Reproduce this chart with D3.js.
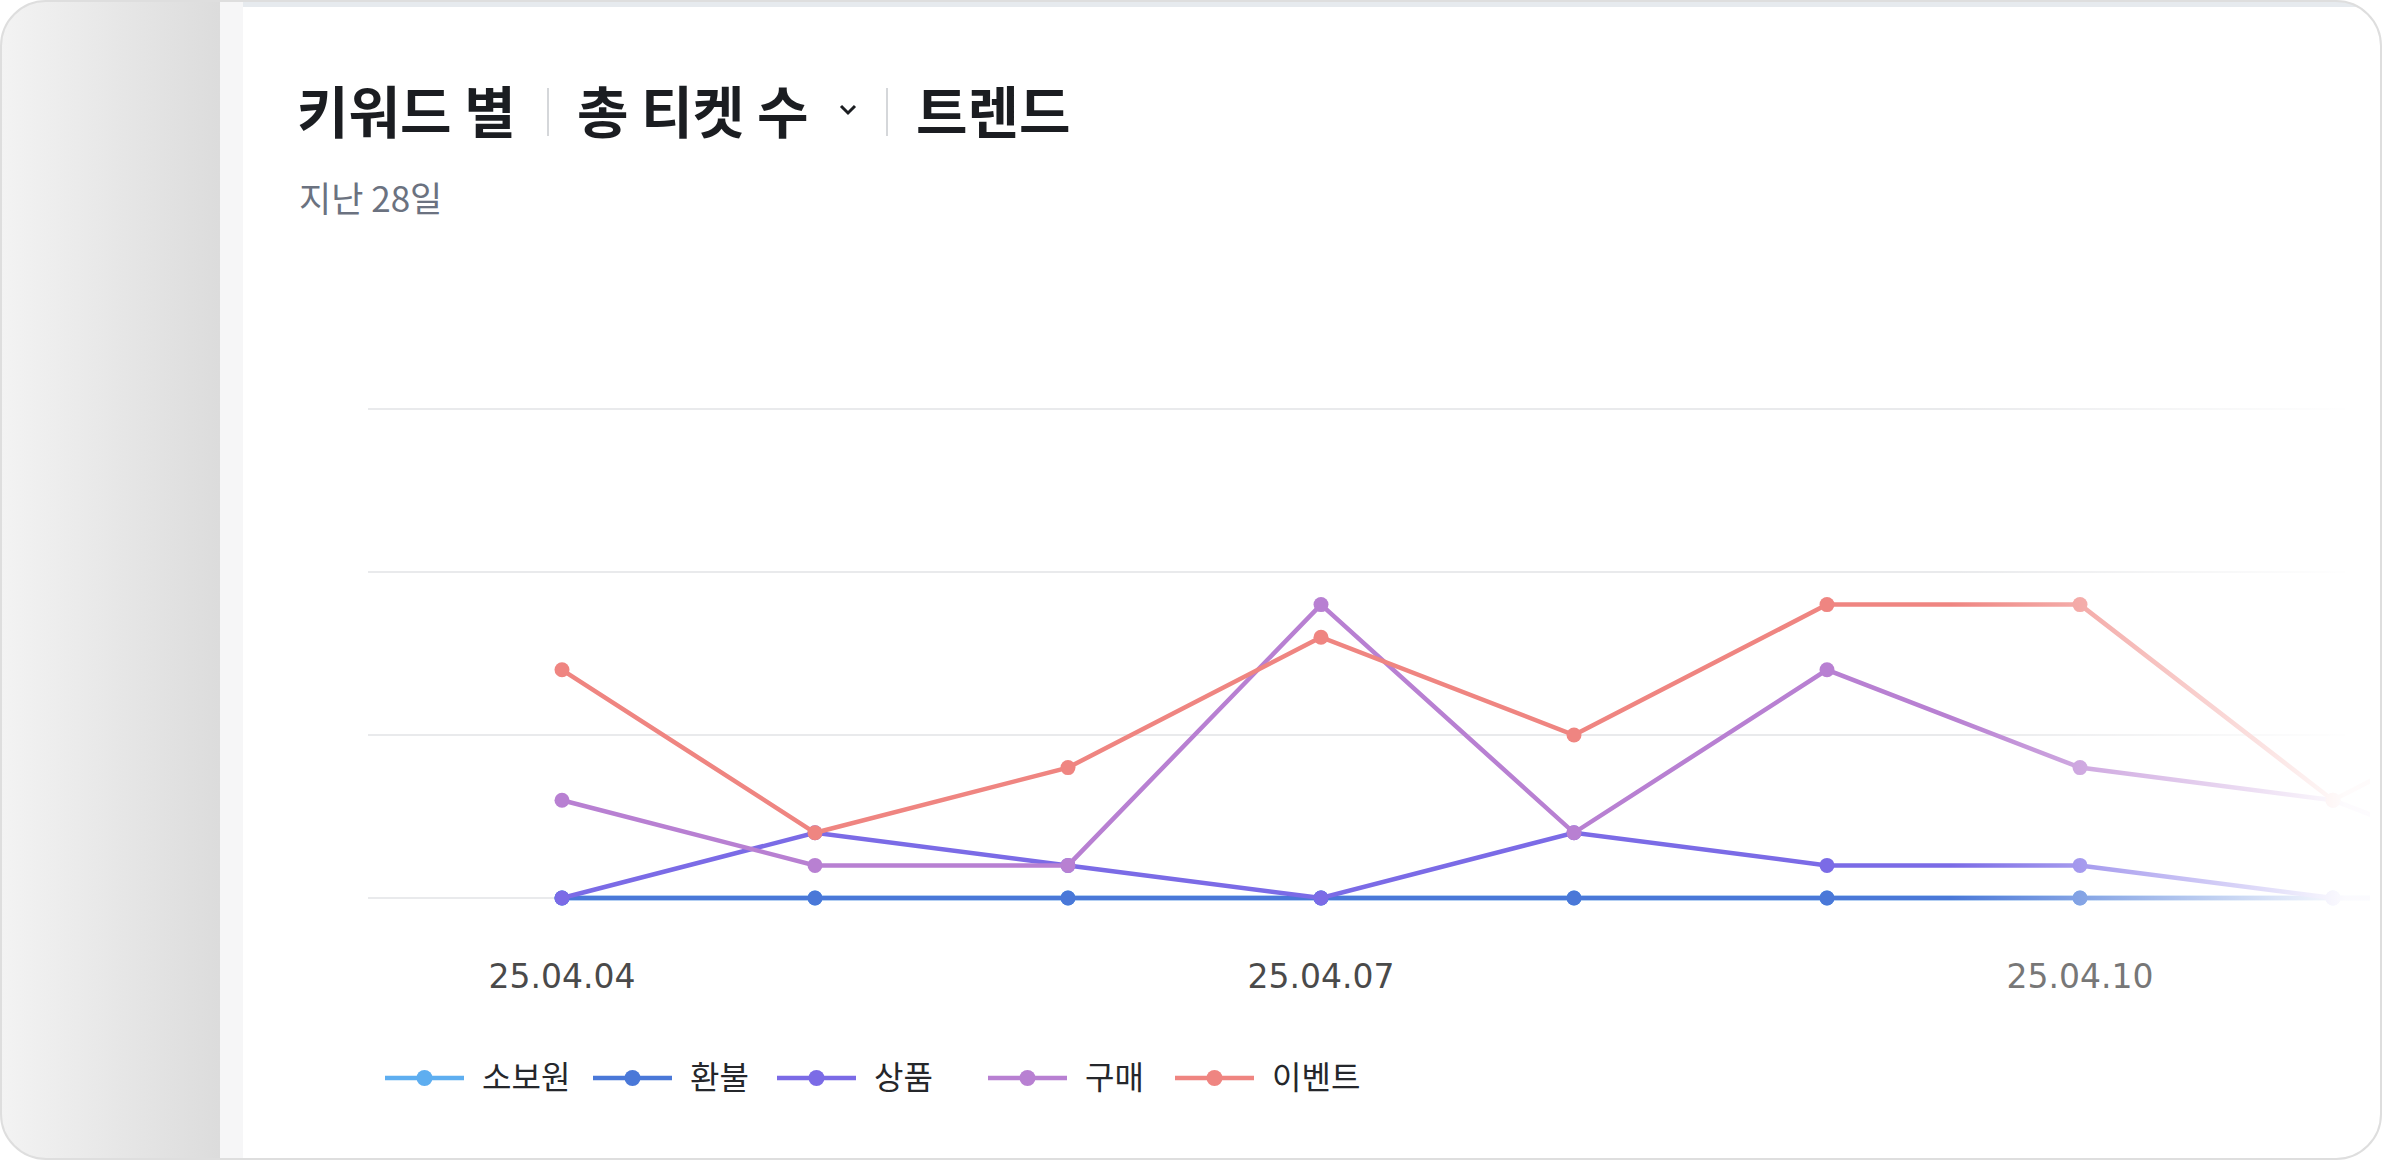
<!DOCTYPE html>
<html><head><meta charset="utf-8">
<script src="https://cdn.jsdelivr.net/npm/d3@7"></script>
<style>html,body{margin:0;padding:0;background:#fff;overflow:hidden}</style>
</head><body>
<svg id="c" width="2382" height="1160"></svg>
<script>
const dates = ["25.04.04","25.04.05","25.04.06","25.04.07","25.04.08","25.04.09","25.04.10","25.04.11","25.04.12"];
const tickLabels = ["25.04.04","25.04.07","25.04.10"];
const seriesNames = ["소보원","환불","상품","구매","이벤트"];
const colors = ["#5eaef0","#4a78d8","#7b6be6","#b880d2","#ef8581"];
const sobowon = [0,0,0,0,0,0,0,0,0];
const refund  = [0,0,0,0,0,0,0,0,0];
const product = [0,2,1,0,2,1,1,0,0];
const purchase= [3,1,1,9,2,7,4,3,0];
const eventS  = [7,2,4,8,5,9,9,3,7];
const yTicks = [0,5,10,15];
const data = [sobowon,refund,product,purchase,eventS];

const svg = d3.select("#c");
const defs = svg.append("defs");
const lg = defs.append("linearGradient").attr("id","leftg");
lg.append("stop").attr("offset","0").attr("stop-color","#f3f3f3");
lg.append("stop").attr("offset","1").attr("stop-color","#dcdcdc");
const fade = defs.append("linearGradient").attr("id","fade").attr("gradientUnits","userSpaceOnUse").attr("x1",1950).attr("x2",2345);
fade.append("stop").attr("offset","0").attr("stop-color","#fff").attr("stop-opacity",0);
fade.append("stop").attr("offset","1").attr("stop-color","#fff").attr("stop-opacity",0.97);
defs.append("clipPath").attr("id","clip").append("rect").attr("x",300).attr("y",350).attr("width",2070).attr("height",620);
defs.append("clipPath").attr("id","card").append("rect").attr("x",1).attr("y",1).attr("width",2380).attr("height",1158).attr("rx",45);

const card = svg.append("g").attr("clip-path","url(#card)");
card.append("rect").attr("width",2382).attr("height",1160).attr("fill","#fff");
card.append("rect").attr("x",0).attr("y",0).attr("width",220).attr("height",1160).attr("fill","url(#leftg)");
card.append("rect").attr("x",220).attr("y",0).attr("width",23).attr("height",1160).attr("fill","#f6f6f7");
card.append("rect").attr("x",243).attr("y",0).attr("width",2139).attr("height",7).attr("fill","#e6eaee");
svg.append("rect").attr("x",1).attr("y",1).attr("width",2380).attr("height",1158).attr("rx",45)
  .attr("fill","none").attr("stroke","#dedede").attr("stroke-width",2);

// Title
const tf = "'Noto Sans CJK KR','Noto Sans',sans-serif";
const title = svg.append("g").attr("font-family",tf).attr("font-weight",700).attr("font-size",56).attr("fill","#1b1d21");
title.append("text").attr("x",297).attr("y",133).text("키워드 별");
title.append("text").attr("x",577).attr("y",133).text("총 티켓 수");
title.append("text").attr("x",916).attr("y",133).text("트렌드");
svg.append("path").attr("d","M841,106 l7,7 l7,-7").attr("fill","none").attr("stroke","#1b1d21").attr("stroke-width",3);
[548,887].forEach(x=>svg.append("line").attr("x1",x).attr("x2",x).attr("y1",88).attr("y2",136).attr("stroke","#d5d7da").attr("stroke-width",2));
svg.append("text").attr("x",299).attr("y",212).attr("font-family",tf).attr("font-size",35).attr("fill","#6b7280").text("지난 28일");

// Scales
const x = d3.scalePoint().domain(dates).range([562,2586]);
const y = d3.scaleLinear().domain([0,15]).range([898,409]);

svg.append("g").selectAll("line").data(yTicks).join("line")
  .attr("x1",368).attr("x2",2345).attr("y1",d=>y(d)).attr("y2",d=>y(d)).attr("stroke","#e9eaec").attr("stroke-width",2);

const plot = svg.append("g").attr("clip-path","url(#clip)");
const line = d3.line().x((d,i)=>x(dates[i])).y(d=>y(d));
data.forEach((s,k)=>{
  plot.append("path").datum(s).attr("d",line).attr("fill","none").attr("stroke",colors[k]).attr("stroke-width",4.5);
  plot.append("g").selectAll("circle").data(s).join("circle")
    .attr("cx",(d,i)=>x(dates[i])).attr("cy",d=>y(d)).attr("r",7.5).attr("fill",colors[k]);
});
svg.append("rect").attr("x",1950).attr("y",380).attr("width",430).attr("height",560).attr("fill","url(#fade)");

// x ticks
svg.append("g").selectAll("text").data(tickLabels).join("text")
  .attr("x",d=>x(d)).attr("y",988).attr("text-anchor","middle").attr("font-family","'DejaVu Sans',sans-serif")
  .attr("font-size",33).attr("fill",(d,i)=>i==2?"#777":"#4a4a4a").text(d=>d);

// legend
const lx = [385,593,777,988,1175];
const leg = svg.append("g");
seriesNames.forEach((n,k)=>{
  const g = leg.append("g").attr("transform",`translate(${lx[k]},1078)`);
  g.append("line").attr("x1",0).attr("x2",79).attr("stroke",colors[k]).attr("stroke-width",4.5);
  g.append("circle").attr("cx",39.5).attr("r",8).attr("fill",colors[k]);
  g.append("text").attr("x",97).attr("y",11).attr("font-family",tf).attr("font-size",32).attr("fill","#25272b").text(n);
});
</script>
</body></html>
